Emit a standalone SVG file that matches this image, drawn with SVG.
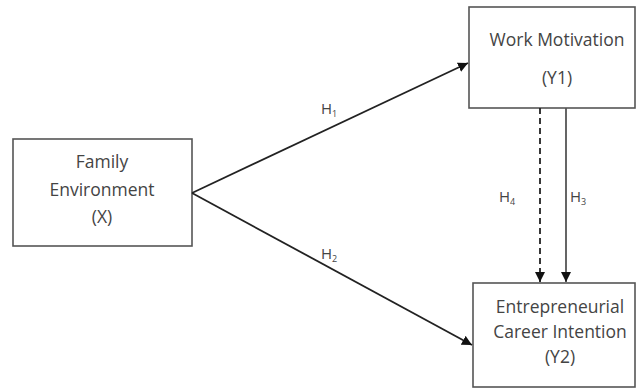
<svg xmlns="http://www.w3.org/2000/svg" width="639" height="389" viewBox="0 0 639 389">
<style>
.box{fill:#fff;stroke:#555;stroke-width:1.6}
.t{font-family:"Open Sans","Liberation Sans",sans-serif;font-size:17.5px;fill:#444;text-anchor:middle}
.lbl{font-family:"Open Sans","Liberation Sans",sans-serif;font-size:15px;fill:#444;text-anchor:middle}
.sub{font-size:9px}
.c{stroke:#222;stroke-width:1.8;fill:none}
</style>
<defs>
<marker id="ah2" viewBox="0 0 10 10" refX="10" refY="5" markerWidth="10" markerHeight="10" markerUnits="userSpaceOnUse" orient="auto"><path d="M0,0 L10,5 L0,10 z" fill="#111"/></marker>
</defs>
<rect width="639" height="389" fill="#fff"/>
<g id="family">
<rect class="box" x="13" y="139" width="179" height="107"/>
<text class="t" x="102" y="168">Family</text>
<text class="t" x="102" y="196">Environment</text>
<text class="t" x="102" y="223">(X)</text>
</g>
<g id="work">
<rect class="box" x="469" y="7" width="166" height="101"/>
<text class="t" x="557" y="46">Work Motivation</text>
<text class="t" x="557" y="84">(Y1)</text>
</g>
<g id="career">
<rect class="box" x="473" y="283" width="162" height="104"/>
<text class="t" x="560" y="313">Entrepreneurial</text>
<text class="t" x="560" y="338">Career Intention</text>
<text class="t" x="560" y="363">(Y2)</text>
</g>
<g id="connectors">
<line class="c" x1="192" y1="193" x2="468" y2="63" marker-end="url(#ah2)"/>
<line class="c" x1="192" y1="193" x2="472" y2="345" marker-end="url(#ah2)"/>
<line class="c" x1="540" y1="108" x2="540" y2="282" stroke-dasharray="6,4" marker-end="url(#ah2)"/>
<line x1="566" y1="108" x2="566" y2="282" stroke="#555" stroke-width="1.8" marker-end="url(#ah2)"/>
<text class="lbl" x="329" y="114">H<tspan class="sub" dy="3">1</tspan></text>
<text class="lbl" x="329" y="259">H<tspan class="sub" dy="3">2</tspan></text>
<text class="lbl" x="507" y="202">H<tspan class="sub" dy="3">4</tspan></text>
<text class="lbl" x="578" y="202">H<tspan class="sub" dy="3">3</tspan></text>
</g>
</svg>
